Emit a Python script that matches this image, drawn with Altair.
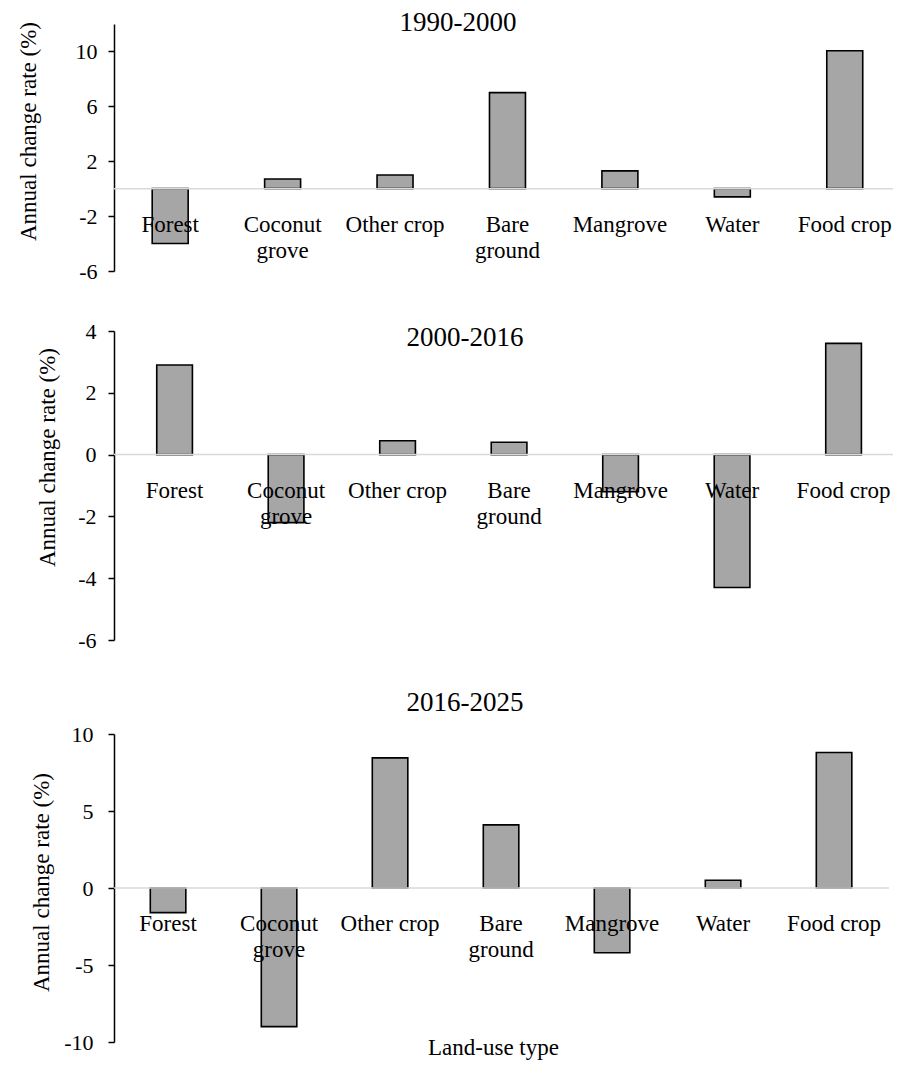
import altair as alt
import pandas as pd

FONT = "Liberation Serif"

categories = ["Forest", "Coconut grove", "Other crop", "Bare ground", "Mangrove", "Water", "Food crop"]
label_lines = ["Forest", "Coconut\ngrove", "Other crop", "Bare\nground", "Mangrove", "Water", "Food crop"]

rates_1990_2000 = [-4.0, 0.7, 1.0, 7.0, 1.3, -0.6, 10.05]
rates_2000_2016 = [2.9, -2.2, 0.45, 0.4, -1.2, -4.3, 3.6]
rates_2016_2025 = [-1.6, -9.0, 8.45, 4.1, -4.2, 0.5, 8.8]

ticks_1 = [-6, -2, 2, 6, 10]
ticks_2 = [-6, -4, -2, 0, 2, 4]
ticks_3 = [-10, -5, 0, 5, 10]

LABEL_EXPR = "(datum.value < 0 ? '-' : '') + abs(datum.value)"


def panel(values, title, domain, ticks, width, height, pad_outer, align, title_x, title_y,
          ytitle_x, ytitle_y, label_pad, xtitle=False):
    df = pd.DataFrame({"cat": categories, "label": label_lines, "rate": values})
    xscale = alt.Scale(domain=categories, paddingInner=0.68, paddingOuter=pad_outer,
                       align=align)
    yscale = alt.Scale(domain=domain, nice=False, zero=False)
    yaxis = alt.Axis(values=ticks, grid=False, domainColor="black", domainWidth=1.5,
                     tickColor="black", tickSize=6, tickWidth=1.5,
                     labelFont=FONT, labelFontSize=22, labelColor="black",
                     labelPadding=label_pad, labelExpr=LABEL_EXPR,
                     title="Annual change rate (%)", titleFont=FONT, titleFontSize=23,
                     titleFontWeight="normal", titleColor="black", titleAngle=270,
                     titleX=ytitle_x, titleY=ytitle_y, titleAlign="center",
                     titleBaseline="middle")
    if xtitle:
        xaxis = alt.Axis(labels=False, ticks=False, domain=False, grid=False,
                         title="Land-use type", titleFont=FONT, titleFontSize=23,
                         titleFontWeight="normal", titleColor="black",
                         titleX=379, titleY=12, titleBaseline="alphabetic",
                         titleAlign="center")
    else:
        xaxis = None
    X = alt.X("cat:N", scale=xscale, axis=xaxis, sort=categories)
    base = alt.Chart(df)
    bars = base.mark_bar(fill="#a6a6a6", stroke="black", strokeWidth=1.6).encode(
        x=X, y=alt.Y("rate:Q", scale=yscale, axis=yaxis)
    )
    zero = alt.Chart(pd.DataFrame({"v": [0]})).mark_rule(color="#d9d9d9", strokeWidth=1.5).encode(
        y=alt.Y("v:Q", scale=yscale, axis=yaxis)
    )
    labels = base.mark_text(font=FONT, fontSize=23, baseline="alphabetic", dy=43,
                            lineBreak="\n", lineHeight=26, color="black").encode(
        x=X, y=alt.Y(datum=0, scale=yscale, axis=yaxis), text="label:N"
    )
    ttl = alt.Chart(pd.DataFrame({"t": [title]})).mark_text(
        font=FONT, fontSize=27, baseline="alphabetic", align="center", color="black"
    ).encode(x=alt.value(title_x), y=alt.value(title_y), text="t:N")
    return alt.layer(bars, zero, labels, ttl).properties(width=width, height=height)


p1 = panel(rates_1990_2000, "1990-2000", [-6, 12], ticks_1, 779, 247, 0.3044, 0.558,
           344, 7, -86, 107, 11)
p2 = panel(rates_2000_2016, "2000-2016", [-6, 4], ticks_2, 779, 309, 0.3333, 0.575,
           351, 15, -67, 126, 12)
p3 = panel(rates_2016_2025, "2016-2025", [-10, 10], ticks_3, 775, 308, 0.331, 0.494,
           351, -23, -73, 148, 15, xtitle=True)

chart = alt.vconcat(p1, p2, p3, spacing=38).properties(
    padding={"left": 9, "top": 1, "right": 0, "bottom": 2},
    background="white",
).configure_view(stroke=None)

chart.save("out.html", embed_options={"renderer": "svg", "actions": False})
